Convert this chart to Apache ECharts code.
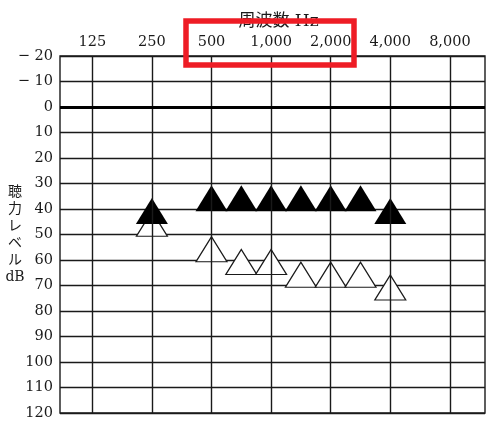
<!DOCTYPE html>
<html>
<head>
<meta charset="utf-8">
<script src="https://cdn.jsdelivr.net/npm/echarts@6/dist/echarts.min.js"></script>
<style>
    html, body { margin: 0; padding: 0; background: #fff; }
    #chart { width: 500px; height: 428px; }
</style>
</head>
<body>
<div id="chart"></div>
<script>
// 周波数（オクターブ目盛）
const octaveFreqs = [125, 250, 500, 1000, 2000, 4000, 8000];
const octaveLabels = ['125', '250', '500', '1,000', '2,000', '4,000', '8,000'];

// ▲ 黒塗りの記号
const filledFreqs = [250, 500, 750, 1000, 1500, 2000, 3000, 4000];
const filledDb = [40, 35, 35, 35, 35, 35, 35, 40];

// △ 白抜きの記号
const openFreqs = [250, 500, 750, 1000, 1500, 2000, 3000, 4000];
const openDb = [45, 55, 60, 60, 65, 65, 65, 70];

// 周波数 -> 横軸上の位置（オクターブ間は線形）
function freqPos(f) {
    for (let i = 0; i < octaveFreqs.length - 1; i++) {
        if (f >= octaveFreqs[i] && f <= octaveFreqs[i + 1]) {
            return i + (f - octaveFreqs[i]) / (octaveFreqs[i + 1] - octaveFreqs[i]);
        }
    }
    return octaveFreqs.indexOf(f);
}

const serif = 'DejaVu Serif, Noto Sans CJK JP';
const lineColor = '#1a1a1a';

window.addEventListener('DOMContentLoaded', function() {
    const myChart = echarts.init(document.getElementById('chart'));

    const option = {
        animation: false,
        grid: {
            left: 60,
            right: 15,
            top: 56,
            bottom: 15,
            containLabel: false,
            outerBoundsMode: 'none',
            show: true,
            borderColor: lineColor,
            borderWidth: 1.4
        },
        xAxis: {
            type: 'value',
            position: 'top',
            min: -0.542,
            max: 6.589,
            name: '周波数 Hz',
            nameLocation: 'middle',
            nameGap: 25,
            nameTextStyle: {
                fontFamily: serif,
                fontSize: 17,
                color: lineColor,
                padding: [0, 0, 0, 12]
            },
            axisLine: { show: false },
            axisTick: { show: false },
            splitLine: { show: false },
            axisLabel: {
                customValues: octaveFreqs.map((f, i) => i),
                formatter: v => octaveLabels[Math.round(v)],
                fontFamily: serif,
                fontSize: 14.5,
                color: lineColor,
                margin: 7
            }
        },
        yAxis: {
            type: 'value',
            inverse: true,
            min: -20,
            max: 120,
            interval: 10,
            axisLine: { show: false },
            axisTick: { show: false },
            splitLine: {
                lineStyle: { color: lineColor, width: 1.3 }
            },
            axisLabel: {
                formatter: v => (v < 0 ? '\u2212 ' + Math.abs(v) : String(v)),
                fontFamily: serif,
                fontSize: 14.5,
                color: lineColor,
                margin: 7
            }
        },
        graphic: [
            {
                // 縦軸のタイトル
                type: 'text',
                x: 15,
                y: 235,
                style: {
                    text: '聴\n力\nレ\nベ\nル\ndB',
                    fontFamily: serif,
                    fontSize: 14,
                    lineHeight: 17,
                    align: 'center',
                    verticalAlign: 'middle',
                    fill: lineColor
                }
            },
            {
                type: 'rect',
                z: 100,
                shape: { x: 186, y: 21, width: 168, height: 44 },
                style: { fill: 'none', stroke: '#ee1c25', lineWidth: 5.5 }
            }
        ],
        series: [
            {
                name: '白抜き',
                type: 'scatter',
                symbol: 'triangle',
                symbolSize: [31, 25],
                symbolOffset: [0, 2],
                itemStyle: { color: '#fff', borderColor: lineColor, borderWidth: 1.2, opacity: 1 },
                data: openFreqs.map((f, i) => [freqPos(f), openDb[i]]),
                markLine: {
                    silent: true,
                    symbol: 'none',
                    label: { show: false },
                    animation: false,
                    data: octaveFreqs.map((f, i) => ({
                        xAxis: i,
                        lineStyle: { color: lineColor, width: 1.4, type: 'solid' }
                    })).concat([{
                        yAxis: 0,
                        lineStyle: { color: '#000', width: 3, type: 'solid' }
                    }])
                },
                z: 3
            },
            {
                name: '黒塗り',
                type: 'scatter',
                symbol: 'triangle',
                symbolSize: [32, 26],
                symbolOffset: [0, 2],
                itemStyle: { color: '#000', opacity: 1 },
                data: filledFreqs.map((f, i) => [freqPos(f), filledDb[i]]),
                z: 4
            }
        ]
    };

    myChart.setOption(option);
    window.addEventListener('resize', () => myChart.resize());
});
</script>
</body>
</html>
